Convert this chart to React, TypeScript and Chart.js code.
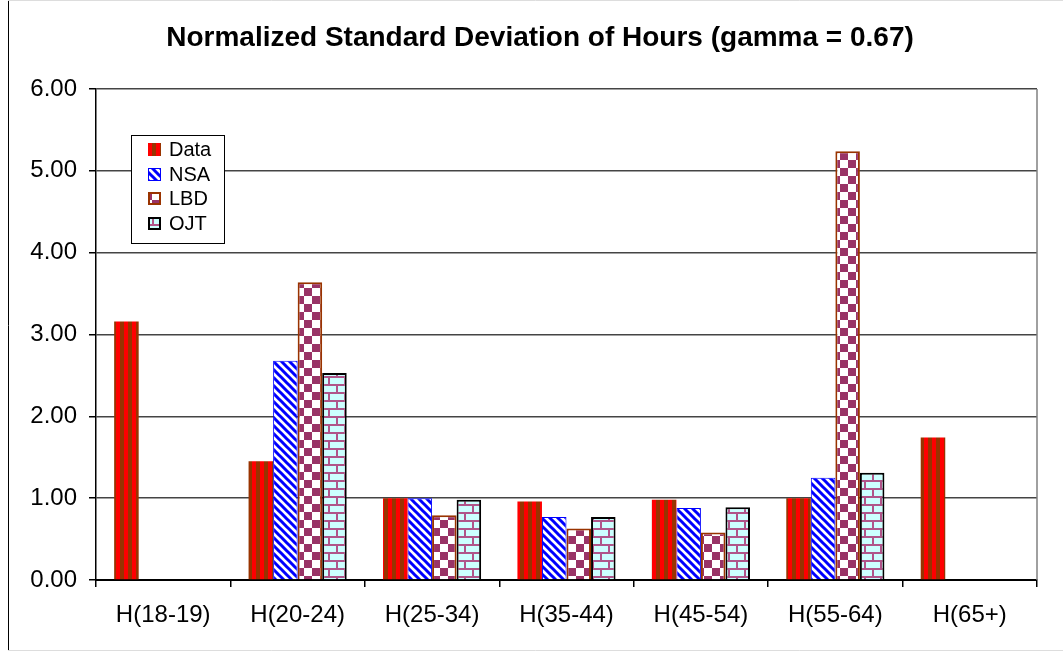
import React, { useEffect, useRef } from "react";
import { Chart, registerables } from "chart.js";

Chart.register(...registerables);

const categories = ["H(18-19)", "H(20-24)", "H(25-34)", "H(35-44)", "H(45-54)", "H(55-64)", "H(65+)"];
const seriesNames = ["Data", "NSA", "LBD", "OJT"];
const dataValues = [3.16, 1.45, 1.0, 0.96, 0.98, 1.0, 1.74];
const nsaValues = [null, 2.68, 1.0, 0.77, 0.88, 1.25, null];
const lbdValues = [null, 3.64, 0.79, 0.63, 0.58, 5.24, null];
const ojtValues = [null, 2.53, 0.98, 0.77, 0.89, 1.31, null];
const yMin = 0;
const yMax = 6;
const yStep = 1;
const titleText = "Normalized Standard Deviation of Hours (gamma = 0.67)";

const FONT = '"Liberation Sans", Arial, sans-serif';

function makeTile(w: number, h: number, draw: (c: CanvasRenderingContext2D) => void) {
  const cv = document.createElement("canvas");
  cv.width = w;
  cv.height = h;
  const c = cv.getContext("2d")!;
  draw(c);
  return cv;
}

function makePatterns(ctx: CanvasRenderingContext2D) {
  const stripes = makeTile(8, 8, (c) => {
    c.fillStyle = "#FF0000";
    c.fillRect(0, 0, 8, 8);
    c.fillStyle = "#993300";
    c.fillRect(0, 0, 4, 8);
  });
  const diag = makeTile(8, 8, (c) => {
    c.fillStyle = "#FFFFFF";
    c.fillRect(0, 0, 8, 8);
    c.strokeStyle = "#0000FF";
    c.lineWidth = 3;
    c.beginPath();
    c.moveTo(-2, -2);
    c.lineTo(10, 10);
    c.moveTo(-6, 2);
    c.lineTo(2, 10);
    c.moveTo(6, -2);
    c.lineTo(14, 6);
    c.stroke();
  });
  const checker = makeTile(16, 16, (c) => {
    c.fillStyle = "#FFFFFF";
    c.fillRect(0, 0, 16, 16);
    c.fillStyle = "#993366";
    c.fillRect(0, 0, 8, 8);
    c.fillRect(8, 8, 8, 8);
  });
  const brick = makeTile(16, 16, (c) => {
    c.fillStyle = "#CCFFFF";
    c.fillRect(0, 0, 16, 16);
    c.fillStyle = "#B0558A";
    c.fillRect(0, 0, 16, 2);
    c.fillRect(0, 8, 16, 2);
    c.fillRect(0, 0, 2, 8);
    c.fillRect(8, 8, 2, 8);
  });
  return [
    ctx.createPattern(stripes, "repeat")!,
    ctx.createPattern(diag, "repeat")!,
    ctx.createPattern(checker, "repeat")!,
    ctx.createPattern(brick, "repeat")!,
  ];
}

const borderColors = ["#993300", "#0000FF", "#993300", "#000000"];
const borderWidths = [0, 1, 2, 2];

export default function App() {
  const ref = useRef<HTMLCanvasElement | null>(null);

  useEffect(() => {
    const canvas = ref.current!;
    const ctx = canvas.getContext("2d")!;
    const patterns = makePatterns(ctx);
    const values = [dataValues, nsaValues, lbdValues, ojtValues];

    const decor = {
      id: "decor",
      beforeDraw(chart: any) {
        const c = chart.ctx;
        c.save();
        c.fillStyle = "#FFFFFF";
        c.fillRect(0, 0, chart.width, chart.height);
        c.restore();
      },
      afterDatasetsDraw(chart: any) {
        const c = chart.ctx;
        const a = chart.chartArea;
        c.save();
        // right border of plot area
        c.strokeStyle = "#808080";
        c.lineWidth = 1.5;
        c.beginPath();
        c.moveTo(a.right, a.top);
        c.lineTo(a.right, a.bottom);
        c.stroke();
        // outer frame
        c.strokeStyle = "#000000";
        c.lineWidth = 1;
        c.beginPath();
        c.moveTo(8.5, 0);
        c.lineTo(8.5, 651);
        c.stroke();
        c.strokeStyle = "#DDDDDD";
        c.beginPath();
        c.moveTo(8, 0.5);
        c.lineTo(chart.width, 0.5);
        c.moveTo(8, 650.5);
        c.lineTo(chart.width, 650.5);
        c.stroke();
        // title
        c.fillStyle = "#000000";
        c.font = `bold 28px ${FONT}`;
        c.textAlign = "center";
        c.textBaseline = "alphabetic";
        c.fillText(titleText, 540, 46);
        // legend
        const lx = 131, ly = 135, lw = 93, lh = 108;
        c.fillStyle = "#FFFFFF";
        c.fillRect(lx, ly, lw, lh);
        c.strokeStyle = "#000000";
        c.lineWidth = 1;
        c.strokeRect(lx + 0.5, ly + 0.5, lw, lh);
        const ys = [149, 174, 198, 223];
        c.font = `20px ${FONT}`;
        c.textAlign = "left";
        c.textBaseline = "middle";
        seriesNames.forEach((name, i) => {
          const y = ys[i];
          c.fillStyle = patterns[i];
          c.fillRect(148, y - 6, 13, 13);
          if (borderWidths[i] > 0) {
            c.strokeStyle = borderColors[i];
            c.lineWidth = borderWidths[i];
            c.strokeRect(148 + borderWidths[i] / 2, y - 6 + borderWidths[i] / 2, 13 - borderWidths[i], 13 - borderWidths[i]);
          }
          c.fillStyle = "#000000";
          c.fillText(name, 169, y + 1);
        });
        c.restore();
      },
    };

    const chart = new Chart(ctx, {
      type: "bar",
      data: {
        labels: categories,
        datasets: seriesNames.map((name, i) => ({
          label: name,
          data: values[i] as any,
          backgroundColor: patterns[i] as any,
          borderColor: borderColors[i],
          borderWidth: borderWidths[i],
          categoryPercentage: 0.73,
          barPercentage: 1.0,
        })),
      },
      options: {
        responsive: false,
        animation: false,
        devicePixelRatio: 1,
        layout: { padding: { left: 0, top: 89, right: 26, bottom: 0 } },
        plugins: {
          legend: { display: false },
          title: { display: false },
          tooltip: { enabled: false },
        },
        scales: {
          x: {
            afterFit: (s: any) => {
              s.height = 73;
            },
            grid: {
              display: true,
              drawOnChartArea: false,
              drawTicks: true,
              tickLength: 7,
              color: "#000000",
              lineWidth: 1.5,
            },
            border: { color: "#000000", width: 2 },
            ticks: {
              color: "#000000",
              font: { family: FONT, size: 24 },
              padding: 14,
              maxRotation: 0,
            },
          },
          y: {
            min: yMin,
            max: yMax,
            afterFit: (s: any) => {
              s.width = 96;
            },
            grid: {
              color: "#444444",
              lineWidth: 1.5,
              tickLength: 7,
              tickColor: "#000000",
            },
            border: { color: "#000000", width: 1.5 },
            ticks: {
              stepSize: yStep,
              color: "#000000",
              font: { family: FONT, size: 24 },
              padding: 12,
              callback: (v: any) => Number(v).toFixed(2),
            },
          },
        },
      },
      plugins: [decor],
    });
    return () => chart.destroy();
  }, []);

  return (
    <div style={{ position: "absolute", left: 0, top: 0, width: 1063, height: 653 }}>
      <canvas ref={ref} width={1063} height={653} style={{ width: 1063, height: 653, display: "block" }} />
    </div>
  );
}
